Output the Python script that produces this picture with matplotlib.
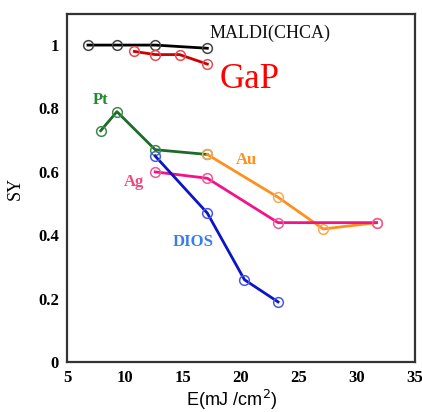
import matplotlib
matplotlib.use('Agg')
import matplotlib.pyplot as plt

# DATA
maldi_x = [6.8, 9.3, 12.6, 17.1]
maldi_y = [1.0, 1.0, 1.0, 0.99]
gap_x = [10.8, 12.6, 14.7, 17.1]
gap_y = [0.98, 0.97, 0.97, 0.94]
pt_x = [7.9, 9.3, 12.6, 17.1]
pt_y = [0.73, 0.79, 0.67, 0.655]
au_x = [17.1, 23.2, 27.1, 31.7]
au_y = [0.655, 0.52, 0.42, 0.44]
ag_x = [12.6, 17.1, 23.2, 31.7]
ag_y = [0.60, 0.58, 0.44, 0.44]
dios_x = [12.6, 17.1, 20.3, 23.2]
dios_y = [0.65, 0.47, 0.26, 0.19]

x_ticks = [5, 10, 15, 20, 25, 30, 35]
y_ticks = [0, 0.2, 0.4, 0.6, 0.8, 1]
y_tick_labels = ['0', '0.2', '0.4', '0.6', '0.8', '1']

SERIF = ['Liberation Serif', 'DejaVu Serif']

fig = plt.figure(figsize=(4.22, 4.12), dpi=100)
ax = fig.add_axes([0.159, 0.121, 0.824, 0.845])

# (x, y, line colour, marker colour)
series = [
    (maldi_x, maldi_y, '#000000', '#444444'),
    (gap_x, gap_y, '#cc0000', '#e05050'),
    (pt_x, pt_y, '#1d6b2c', '#3d8a4c'),
    (au_x, au_y, '#ff9020', '#f5aa55'),
    (ag_x, ag_y, '#f01488', '#ee5a96'),
    (dios_x, dios_y, '#0a14c8', '#4a58e6'),
]
for xs, ys, lc, mc in series:
    ax.plot(xs, ys, color=lc, lw=2.0, marker='o', ms=7,
            mfc='none', mec=mc, mew=1.1)

# series labels
ax.text(17.3, 1.038, 'MALDI(CHCA)', family=SERIF, fontsize=13,
        color='#111111', va='center')
ax.text(18.2, 0.89, 'GaP', family=SERIF, fontsize=25, color='#ff0000', va='center')
ax.text(7.2, 0.826, 'Pt', family=SERIF, fontsize=12, fontweight='bold',
        color='#1f8a2f', va='center')
ax.text(19.6, 0.637, 'Au', family=SERIF, fontsize=12, fontweight='bold',
        color='#ff9020', va='center')
ax.text(9.9, 0.568, 'Ag', family=SERIF, fontsize=12, fontweight='bold',
        color='#f04a7e', va='center')
ax.text(14.1, 0.379, 'DIOS', family=SERIF, fontsize=12, fontweight='bold',
        color='#3a7cf0', va='center')

ax.set_xlim(5, 35)
ax.set_ylim(0, 1.098)
ax.set_xticks(x_ticks)
ax.set_yticks(y_ticks)
ax.set_yticklabels(y_tick_labels)
ax.tick_params(length=0, pad=6)
for lab in ax.get_xticklabels() + ax.get_yticklabels():
    lab.set_family(SERIF)
    lab.set_fontweight('bold')
    lab.set_fontsize(12)

for sp in ax.spines.values():
    sp.set_color('#333333')
    sp.set_linewidth(1.6)

ax.set_xlabel('E(mJ /cm$^2$)', family='Liberation Sans', fontsize=13, labelpad=4)
ax.xaxis.set_label_coords(0.475, -0.075)
ax.set_ylabel('SY', family=SERIF, fontsize=13, labelpad=10)

fig.savefig('out.png', dpi=100)
